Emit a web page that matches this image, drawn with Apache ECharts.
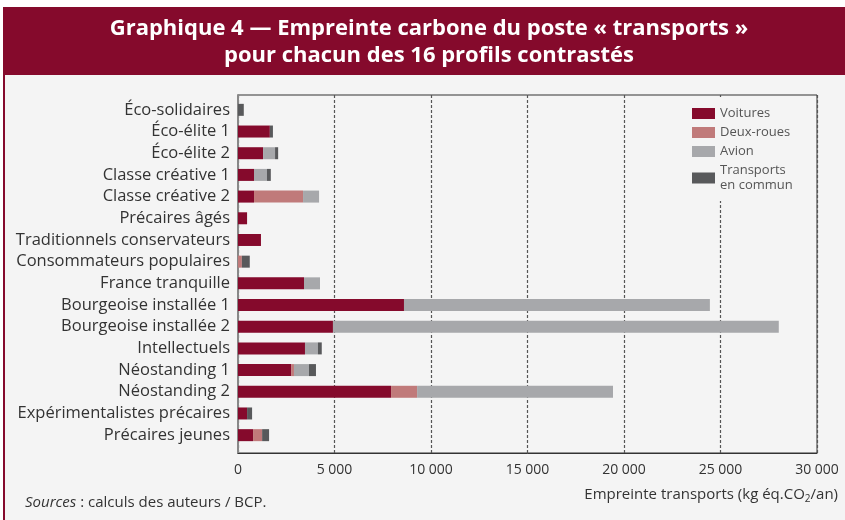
<!DOCTYPE html>
<html lang="fr">
<head>
<meta charset="UTF-8">
<title>Empreinte transports</title>
<script src="https://cdn.jsdelivr.net/npm/echarts@6/dist/echarts.min.js"></script>
<style>
  html, body { margin: 0; padding: 0; background: #fff; }
  #main { width: 845px; height: 520px; }
</style>
</head>
<body>
<div id="main"></div>
<script>
// profils (du haut vers le bas)
var profils = ['Éco-solidaires', 'Éco-élite 1', 'Éco-élite 2', 'Classe créative 1', 'Classe créative 2',
  'Précaires âgés', 'Traditionnels conservateurs', 'Consommateurs populaires', 'France tranquille',
  'Bourgeoise installée 1', 'Bourgeoise installée 2', 'Intellectuels', 'Néostanding 1', 'Néostanding 2',
  'Expérimentalistes précaires', 'Précaires jeunes'];

// kg éq.CO2 / an
var voitures   = [0, 1650, 1300, 830, 830, 470, 1190, 0, 3420, 8600, 4920, 3470, 2750, 7930, 470, 780];
var deuxRoues  = [0, 0, 0, 0, 2540, 0, 0, 200, 0, 0, 0, 0, 150, 1350, 0, 470];
var avion      = [0, 0, 620, 670, 830, 0, 0, 0, 830, 15850, 23100, 670, 780, 10150, 0, 0];
var transportsCommun = [300, 160, 160, 200, 0, 0, 0, 410, 0, 0, 0, 200, 360, 0, 260, 360];

var xTicks = [0, 5000, 10000, 15000, 20000, 25000, 30000];

var font = 'Open Sans, sans-serif';

var chart = echarts.init(document.getElementById('main'));

function fmt(v) {
  return String(v).replace(/\B(?=(\d{3})+(?!\d))/g, ' ');
}

function serie(name, data, color) {
  return {
    name: name,
    type: 'bar',
    stack: 'total',
    xAxisIndex: 1,
    yAxisIndex: 1,
    barWidth: 12,
    itemStyle: { color: color },
    data: data
  };
}

chart.setOption({
  backgroundColor: '#ffffff',
  animation: false,
  graphic: [
    { type: 'rect', shape: { x: 3, y: 7, width: 842, height: 68 }, style: { fill: '#850a2c' }, z: -10 },
    { type: 'rect', shape: { x: 3, y: 75, width: 842, height: 445 }, style: { fill: '#f4f4f4' }, z: -10 },
    { type: 'rect', shape: { x: 3, y: 75, width: 2, height: 445 }, style: { fill: '#850a2c' }, z: -9 },
    // fond de la légende, masque les pointillés
    { type: 'rect', shape: { x: 684, y: 97, width: 132, height: 104 }, style: { fill: '#f4f4f4' }, z: 5 }
  ],
  title: [
    {
      text: 'Graphique 4 — Empreinte carbone du poste « transports »\npour chacun des 16 profils contrastés',
      left: 424, top: 10, textAlign: 'center',
      textStyle: { color: '#fff', fontFamily: font, fontWeight: 'bold', fontSize: 22, lineHeight: 27 }
    },
    {
      text: '{it|Sources} : calculs des auteurs / BCP.',
      left: 20, top: 490,
      textStyle: {
        color: '#333', fontFamily: font, fontSize: 15, fontWeight: 'normal',
        rich: { it: { fontStyle: 'italic', fontFamily: font, fontSize: 15, color: '#333' } }
      }
    },
    {
      text: 'Empreinte transports (kg éq.CO{sub|2}/an)',
      right: 2, top: 481,
      textStyle: {
        color: '#333', fontFamily: font, fontSize: 15, fontWeight: 'normal',
        rich: { sub: { fontSize: 10, fontFamily: font, color: '#333', padding: [8, 0, 0, 0] } }
      }
    }
  ],
  legend: {
    orient: 'vertical',
    left: 686, top: 100,
    padding: [6, 20, 6, 6],
    z: 10,
    itemWidth: 23, itemHeight: 11, itemGap: 4,
    icon: 'rect',
    data: ['Voitures', 'Deux-roues', 'Avion', 'Transports en commun'],
    formatter: function (n) { return n === 'Transports en commun' ? 'Transports\nen commun' : n; },
    textStyle: { color: '#555', fontFamily: font, fontSize: 13, lineHeight: 15 }
  },
  grid: [
    { left: 238, right: 28, top: 95, bottom: 67, show: true, borderColor: '#333', borderWidth: 1, backgroundColor: 'transparent' },
    { left: 238, right: 28, top: 99, bottom: 74 }
  ],
  xAxis: [
    {
      gridIndex: 0, type: 'value', min: 0, max: 30000, interval: 5000,
      axisLine: { show: true, lineStyle: { color: '#333' } },
      axisTick: { show: false },
      axisLabel: { color: '#333', fontFamily: font, fontSize: 14, margin: 10,
        formatter: function (v) { return xTicks.indexOf(v) >= 0 ? fmt(v) : ''; } },
      splitLine: { show: true, lineStyle: { color: '#555', type: [3, 2], width: 1.2 } }
    },
    {
      gridIndex: 1, type: 'value', min: 0, max: 30000, show: false,
      splitLine: { show: false }
    }
  ],
  yAxis: [
    {
      gridIndex: 0, type: 'value', min: 0, max: 1,
      axisLine: { show: true, lineStyle: { color: '#888', width: 2 } },
      axisTick: { show: false }, axisLabel: { show: false }, splitLine: { show: false }
    },
    {
      gridIndex: 1, type: 'category', inverse: true, data: profils,
      axisLine: { show: false }, axisTick: { show: false },
      axisLabel: { color: '#333', fontFamily: font, fontSize: 16.5, margin: 8, interval: 0 }
    }
  ],
  series: [
    serie('Voitures', voitures, '#850a2c'),
    serie('Deux-roues', deuxRoues, '#c07a7a'),
    serie('Avion', avion, '#a7a8ab'),
    serie('Transports en commun', transportsCommun, '#58595b')
  ]
});
</script>
</body>
</html>
